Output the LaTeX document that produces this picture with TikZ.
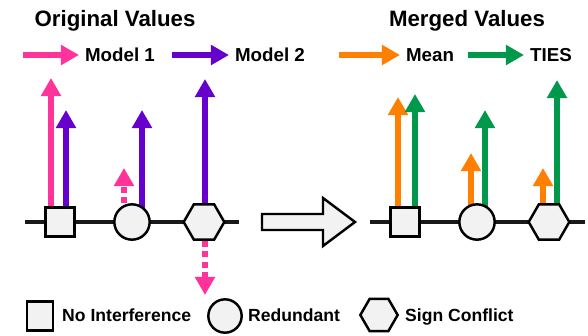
\documentclass[tikz,border=0pt]{standalone}
\usepackage{fontspec}
\setmainfont{Liberation Sans}
\usetikzlibrary{arrows.meta,shapes.geometric,backgrounds}
\definecolor{mpink}{HTML}{FF3399}
\definecolor{mpurple}{HTML}{6600CC}
\definecolor{morange}{HTML}{FF8000}
\definecolor{mgreen}{HTML}{00994C}
\definecolor{shapefill}{HTML}{F2F2F2}
\tikzset{
  >={Triangle[width=16.5pt,length=15.5pt]},
  vec/.style={->,line width=4.4pt},
  dvec/.style={vec,dash pattern=on 5pt off 4pt},
  axis/.style={line width=3.6pt,black!90},
  shapebox/.style={draw,line width=2.1pt,fill=shapefill,inner sep=0pt},
  sqbox/.style={shapebox,rectangle,minimum size=0.86cm},
  rndbox/.style={shapebox,circle,minimum size=1.06cm},
  hexbox/.style={shapebox,regular polygon,regular polygon sides=6,minimum size=1.22cm},
  title/.style={font=\bfseries\fontsize{19}{22}\selectfont,inner sep=0pt},
  lbl/.style={font=\bfseries\fontsize{16}{19}\selectfont,inner sep=5pt},
  leglbl/.style={font=\bfseries\fontsize{15}{18}\selectfont,inner sep=0pt,anchor=base west}
}

\begin{document}
\begin{tikzpicture}[x=0.03cm,y=-0.03cm]
  \useasboundingbox (0,0) rectangle (588,336);

  % Titles
  \node[title,anchor=base] (orig) at (115,26) {Original Values};
  \node[title,anchor=base] (merged) at (467,26) {Merged Values};

  % Key
  \coordinate (kA) at (23,55);
  \coordinate (kB) at (172,55);
  \coordinate (kC) at (339,55);
  \coordinate (kD) at (468,55);
  \node[lbl,anchor=west] (model1) at (79,55) {Model 1};
  \node[lbl,anchor=west] (model2) at (229,55) {Model 2};
  \node[lbl,anchor=west] (mean) at (400,55) {Mean};
  \node[lbl,anchor=west] (ties) at (524,55) {TIES};
  \draw[vec,mpink] (kA) -- (model1.west);
  \draw[vec,mpurple] (kB) -- (model2.west);
  \draw[vec,morange] (kC) -- (mean.west);
  \draw[vec,mgreen] (kD) -- (ties.west);

  % Original
  \node[sqbox] (sqA) at (60,222) {};
  \node[rndbox] (rdA) at (132,222) {};
  \node[hexbox] (hxA) at (204,222) {};
  \coordinate (axA0) at (25,222);
  \coordinate (axA1) at (239,222);
  \coordinate (tA1) at (51,78);
  \coordinate (tA2) at (66,110);
  \coordinate (tA3) at (124,168);
  \coordinate (tA4) at (142,110);
  \coordinate (tA5) at (205,79);
  \coordinate (tA6) at (205,295);

  % Merged
  \node[sqbox] (sqB) at (405,222) {};
  \node[rndbox] (rdB) at (477,222) {};
  \node[hexbox] (hxB) at (549,222) {};
  \coordinate (axB0) at (370,222);
  \coordinate (axB1) at (585,222);
  \coordinate (tB1) at (398,97);
  \coordinate (tB2) at (415,94);
  \coordinate (tB3) at (471,153);
  \coordinate (tB4) at (485,110);
  \coordinate (tB5) at (543,168);
  \coordinate (tB6) at (557,80);

  \begin{scope}[on background layer]
    \draw[axis] (axA0) -- (axA1);
    \draw[axis] (axB0) -- (axB1);
    \draw[vec,mpink] (tA1 |- sqA) -- (tA1);
    \draw[vec,mpurple] (tA2 |- sqA) -- (tA2);
    \draw[dvec,mpink] (tA3 |- rdA.north) -- (tA3);
    \draw[vec,mpurple] (tA4 |- rdA) -- (tA4);
    \draw[vec,mpurple] (tA5 |- hxA) -- (tA5);
    \draw[dvec,mpink] (tA6 |- hxA.south) -- (tA6);
    \draw[vec,morange] (tB1 |- sqB) -- (tB1);
    \draw[vec,mgreen] (tB2 |- sqB) -- (tB2);
    \draw[vec,morange] (tB3 |- rdB) -- (tB3);
    \draw[vec,mgreen] (tB4 |- rdB) -- (tB4);
    \draw[vec,morange] (tB5 |- hxB) -- (tB5);
    \draw[vec,mgreen] (tB6 |- hxB) -- (tB6);
  \end{scope}

  % big arrow
  \draw[line width=2.1pt,fill=shapefill,line join=miter]
    (262,214) -- (323,214) -- (323,198) -- (355,222) -- (323,246)
    -- (323,230) -- (262,230) -- cycle;

  % Legend
  \node[sqbox,minimum width=0.78cm,minimum height=0.86cm] (sqL) at (40,316) {};
  \node[leglbl] (noint) at (62,321.5) {No Interference};
  \node[rndbox,minimum size=1.0cm] (rdL) at (225,316) {};
  \node[leglbl] (redund) at (248,321.5) {Redundant};
  \node[hexbox,minimum size=1.12cm] (hxL) at (379,315) {};
  \node[leglbl] (conflict) at (405,321.5) {Sign Conflict};
\end{tikzpicture}
\end{document}
